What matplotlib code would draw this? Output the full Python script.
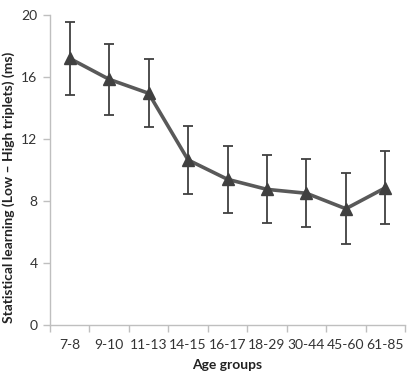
import numpy as np
import matplotlib.pyplot as plt

plt.rcParams['font.family'] = ['Lato', 'DejaVu Sans']

age_groups = ['7-8', '9-10', '11-13', '14-15', '16-17', '18-29', '30-44', '45-60', '61-85']
learning = [17.2, 15.85, 14.95, 10.65, 9.4, 8.75, 8.5, 7.5, 8.85]
err = [2.35, 2.3, 2.2, 2.2, 2.15, 2.2, 2.2, 2.3, 2.35]

fig = plt.figure(figsize=(4.07, 3.75), dpi=100)
ax = fig.add_axes([50 / 407, 50 / 375, 355 / 407, 310 / 375])

x = np.arange(len(age_groups))
ax.errorbar(x, learning, yerr=err, color='#595959', lw=2.6,
            ecolor='#404040', elinewidth=1.3, capsize=3.5, capthick=1.3,
            marker='^', markersize=9, markerfacecolor='#404040',
            markeredgecolor='#404040', zorder=3)

ax.set_xlim(-0.5, len(age_groups) - 0.5)
ax.set_ylim(0, 20)
ax.set_yticks([0, 4, 8, 12, 16, 20])
ax.set_xticks(x)
ax.set_xticklabels(age_groups)
ax.set_xticks(np.arange(len(age_groups) + 1) - 0.5, minor=True)
ax.tick_params(axis='x', which='major', length=0, pad=10, labelsize=10, colors='#333333')
ax.tick_params(axis='x', which='minor', length=5, width=1, color='#bfbfbf')
ax.tick_params(axis='y', length=5, width=1, color='#bfbfbf', labelsize=10,
               labelcolor='#333333', pad=4)

for s in ['top', 'right']:
    ax.spines[s].set_visible(False)
for s in ['left', 'bottom']:
    ax.spines[s].set_color('#bfbfbf')
    ax.spines[s].set_linewidth(1)

ax.set_xlabel('Age groups', fontsize=10, fontweight='bold', color='#222222')
ax.xaxis.set_label_coords(0.5, -34 / 310)
ax.set_ylabel('Statistical learning (Low \u2013 High triplets) (ms)', fontsize=10,
              fontweight='bold', color='#222222')
ax.yaxis.set_label_coords(-35 / 355, 137.5 / 310)

fig.savefig('out.png', dpi=100)
